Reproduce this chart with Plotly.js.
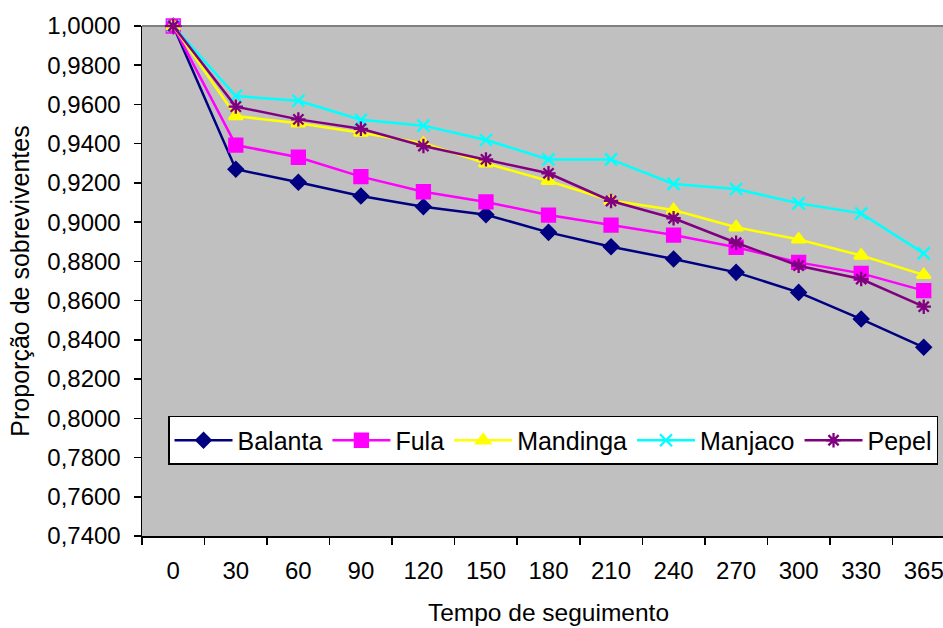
<!DOCTYPE html>
<html>
<head>
<meta charset="utf-8">
<script src="https://cdn.plot.ly/plotly-3.0.1.min.js"></script>
<style>
  html, body { margin: 0; padding: 0; overflow: hidden; background: #ffffff; }
  #chart { width: 955px; height: 628px; }
</style>
</head>
<body>
<div id="chart"></div>
<script>
// Follow-up time points (days)
const tempo = ["0", "30", "60", "90", "120", "150", "180", "210", "240", "270", "300", "330", "365"];

// Proportion of survivors by ethnic group
const balanta  = [1.0000, 0.9270, 0.9203, 0.9133, 0.9079, 0.9038, 0.8948, 0.8875, 0.8812, 0.8744, 0.8642, 0.8506, 0.8362];
const fula     = [1.0000, 0.9393, 0.9331, 0.9232, 0.9155, 0.9103, 0.9036, 0.8985, 0.8934, 0.8872, 0.8795, 0.8739, 0.8651];
const mandinga = [1.0000, 0.9541, 0.9504, 0.9456, 0.9402, 0.9300, 0.9210, 0.9110, 0.9062, 0.8974, 0.8912, 0.8830, 0.8731];
const manjaco  = [1.0000, 0.9643, 0.9619, 0.9522, 0.9492, 0.9419, 0.9320, 0.9320, 0.9195, 0.9169, 0.9096, 0.9045, 0.8841];
const pepel    = [1.0000, 0.9589, 0.9524, 0.9476, 0.9388, 0.9320, 0.9249, 0.9108, 0.9020, 0.8895, 0.8778, 0.8710, 0.8569];

const seriesNames = ["Balanta", "Fula", "Mandinga", "Manjaco", "Pepel"];
const seriesData = [balanta, fula, mandinga, manjaco, pepel];
const seriesColors = ["#000080", "#FF00FF", "#FFFF00", "#00FFFF", "#800080"];
const seriesSymbols = ["diamond", "square", "triangle-up", "x-thin-open", "asterisk-open"];
const seriesSizes = [11, 13, 12, 12, 12];

const traces = seriesNames.map((name, i) => ({
  type: "scatter",
  mode: "lines+markers",
  name: name,
  x: tempo,
  y: seriesData[i],
  cliponaxis: false,
  line: { color: seriesColors[i], width: 2.5 },
  marker: {
    symbol: seriesSymbols[i],
    size: seriesSizes[i],
    color: seriesColors[i],
    line: { color: seriesColors[i], width: 2.3 }
  },
  hoverinfo: "x+y+name"
}));

const font = "Arial, 'Liberation Sans', sans-serif";

const layout = {
  width: 955,
  height: 628,
  margin: { l: 142, r: 0, t: 26, b: 92, pad: 0 },
  paper_bgcolor: "#ffffff",
  plot_bgcolor: "#C0C0C0",
  separators: ",.",
  font: { family: font, size: 24, color: "#000000" },
  showlegend: true,
  legend: {
    orientation: "h",
    x: 0.032, xanchor: "left",
    y: 0.2353, yanchor: "top",
    bgcolor: "#ffffff",
    bordercolor: "#000000",
    borderwidth: 1.5,
    font: { family: font, size: 25, color: "#000000" },
    itemwidth: 58,
    traceorder: "normal"
  },
  xaxis: {
    type: "category",
    categoryorder: "array",
    categoryarray: tempo,
    range: [-0.5, 12.5],
    showgrid: false,
    zeroline: false,
    showline: true,
    linecolor: "#000000",
    linewidth: 1.5,
    ticks: "outside",
    tickson: "boundaries",
    ticklen: 7,
    tickwidth: 1.5,
    tickcolor: "#000000",
    ticklabelstandoff: 13,
    tickfont: { family: font, size: 24, color: "#000000" },
    title: { text: "Tempo de seguimento", font: { family: font, size: 24.5, color: "#000000" }, standoff: 20 },
    fixedrange: true
  },
  yaxis: {
    range: [0.74, 1.0],
    dtick: 0.02,
    tick0: 0.74,
    tickformat: ".4f",
    showgrid: false,
    zeroline: false,
    showline: true,
    linecolor: "#000000",
    linewidth: 1.5,
    ticks: "outside",
    ticklen: 7,
    tickwidth: 1.5,
    tickcolor: "#000000",
    ticklabelstandoff: 8,
    tickfont: { family: font, size: 24, color: "#000000" },
    title: { text: "Proporção de sobreviventes", font: { family: font, size: 25, color: "#000000" }, standoff: 10 },
    fixedrange: true
  },
  shapes: [
    // plot-area frame along the top edge
    { type: "line", xref: "paper", yref: "paper", x0: 0, x1: 1, y0: 1, y1: 1,
      line: { color: "#808080", width: 2 }, layer: "below" }
  ]
};

Plotly.newPlot("chart", traces, layout, { displayModeBar: false, staticPlot: true });
</script>
</body>
</html>
